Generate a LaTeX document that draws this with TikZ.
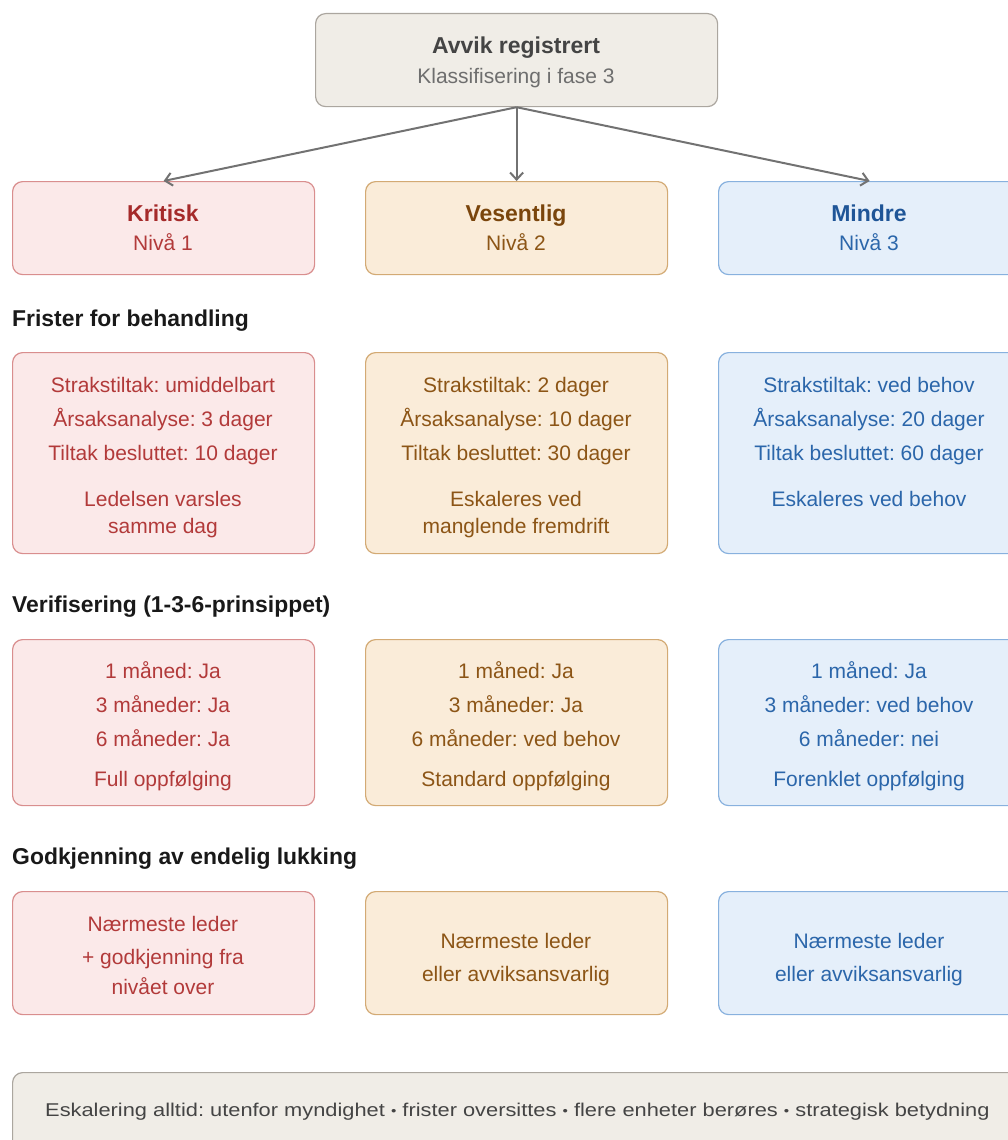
\documentclass[tikz,border=0pt]{standalone}
\usepackage{fontspec}
\setmainfont{Liberation Sans}
\usetikzlibrary{arrows.meta}
\definecolor{kfill}{HTML}{FBE9E9}
\definecolor{kline}{HTML}{D98E8E}
\definecolor{ktext}{HTML}{B23A3A}
\definecolor{ktitle}{HTML}{A52A2A}
\definecolor{vfill}{HTML}{FAECD9}
\definecolor{vline}{HTML}{D3AA74}
\definecolor{vtext}{HTML}{8C5516}
\definecolor{vtitle}{HTML}{7A450C}
\definecolor{mfill}{HTML}{E5EFFA}
\definecolor{mline}{HTML}{88B1DE}
\definecolor{mtext}{HTML}{2B66AA}
\definecolor{mtitle}{HTML}{1F5597}
\definecolor{gfill}{HTML}{F0EDE7}
\definecolor{gline}{HTML}{ABA69F}
\definecolor{gtitle}{HTML}{444444}
\definecolor{gtext}{HTML}{6E6E6E}
\definecolor{arrowc}{HTML}{727272}
\frenchspacing
\newcommand{\smbul}{\raisebox{1pt}{\fontsize{13}{13}\selectfont •}}
\begin{document}
\begin{tikzpicture}[x=1pt,y=-1pt,
  box/.style={draw, rounded corners=10pt, line width=1.2pt, anchor=north west, inner sep=0pt},
  kbox/.style={box, fill=kfill, draw=kline},
  vbox/.style={box, fill=vfill, draw=vline},
  mbox/.style={box, fill=mfill, draw=mline},
  gbox/.style={box, fill=gfill, draw=gline},
  txt/.style={inner sep=0pt, font=\fontsize{21}{25}\selectfont, text height=15pt, text depth=0pt},
  ttl/.style={inner sep=0pt, font=\fontsize{23}{27}\selectfont\bfseries, text height=16.5pt, text depth=0pt},
  kt/.style={txt, text=ktext}, vt/.style={txt, text=vtext}, mt/.style={txt, text=mtext},
  head/.style={inner sep=0pt, anchor=west, font=\fontsize{22.9}{27}\selectfont\bfseries, text=black!90, text height=16.5pt, text depth=0pt},
  arr/.style={draw=arrowc, line width=2pt, -{Straight Barb[length=7pt,width=13pt,line width=2pt]}}
]
\useasboundingbox (0,0) rectangle (1008,1140);

% top
\node[gbox, minimum width=402pt, minimum height=93pt] (top) at (315,13) {};
\node[ttl, text=gtitle] (topa) at (516,45) {Avvik registrert};
\node[txt, text=gtext] (topb) at (516,76) {Klassifisering i fase 3};

% row 1
\node[kbox, minimum width=302pt, minimum height=93pt] (k1) at (12,181) {};
\node[vbox, minimum width=302pt, minimum height=93pt] (v1) at (365,181) {};
\node[mbox, minimum width=302pt, minimum height=93pt] (m1) at (718,181) {};
\node[ttl, text=ktitle] (k1a) at (163,213) {Kritisk};
\node[kt] (k1b) at (163,243) {Nivå 1};
\node[ttl, text=vtitle] (v1a) at (516,213) {Vesentlig};
\node[vt] (v1b) at (516,243) {Nivå 2};
\node[ttl, text=mtitle] (m1a) at (869,213) {Mindre};
\node[mt] (m1b) at (869,243) {Nivå 3};

\draw[arr] (top.south) -- (k1.north);
\draw[arr] (top.south) -- (v1.north);
\draw[arr] (top.south) -- (m1.north);

% row 2
\node[head] (h2) at (12,318) {Frister for behandling};
\node[kbox, minimum width=302pt, minimum height=201pt] (k2) at (12,352) {};
\node[vbox, minimum width=302pt, minimum height=201pt] (v2) at (365,352) {};
\node[mbox, minimum width=302pt, minimum height=201pt] (m2) at (718,352) {};
\node[kt] (k2a) at (163,385) {Strakstiltak: umiddelbart};
\node[kt] (k2b) at (163,419) {Årsaksanalyse: 3 dager};
\node[kt] (k2c) at (163,453) {Tiltak besluttet: 10 dager};
\node[kt] (k2d) at (163,499) {Ledelsen varsles};
\node[kt] (k2e) at (163,526) {samme dag};
\node[vt] (v2a) at (516,385) {Strakstiltak: 2 dager};
\node[vt] (v2b) at (516,419) {Årsaksanalyse: 10 dager};
\node[vt] (v2c) at (516,453) {Tiltak besluttet: 30 dager};
\node[vt] (v2d) at (516,499) {Eskaleres ved};
\node[vt] (v2e) at (516,526) {manglende fremdrift};
\node[mt] (m2a) at (869,385) {Strakstiltak: ved behov};
\node[mt] (m2b) at (869,419) {Årsaksanalyse: 20 dager};
\node[mt] (m2c) at (869,453) {Tiltak besluttet: 60 dager};
\node[mt] (m2d) at (869,499) {Eskaleres ved behov};

% row 3
\node[head] (h3) at (12,604) {Verifisering (1-3-6-prinsippet)};
\node[kbox, minimum width=302pt, minimum height=166pt] (k3) at (12,639) {};
\node[vbox, minimum width=302pt, minimum height=166pt] (v3) at (365,639) {};
\node[mbox, minimum width=302pt, minimum height=166pt] (m3) at (718,639) {};
\node[kt] (k3a) at (163,671) {1 måned: Ja};
\node[kt] (k3b) at (163,705) {3 måneder: Ja};
\node[kt] (k3c) at (163,739) {6 måneder: Ja};
\node[kt] (k3d) at (163,779) {Full oppfølging};
\node[vt] (v3a) at (516,671) {1 måned: Ja};
\node[vt] (v3b) at (516,705) {3 måneder: Ja};
\node[vt] (v3c) at (516,739) {6 måneder: ved behov};
\node[vt] (v3d) at (516,779) {Standard oppfølging};
\node[mt] (m3a) at (869,671) {1 måned: Ja};
\node[mt] (m3b) at (869,705) {3 måneder: ved behov};
\node[mt] (m3c) at (869,739) {6 måneder: nei};
\node[mt] (m3d) at (869,779) {Forenklet oppfølging};

% row 4
\node[head] (h4) at (12,856) {Godkjenning av endelig lukking};
\node[kbox, minimum width=302pt, minimum height=123pt] (k4) at (12,891) {};
\node[vbox, minimum width=302pt, minimum height=123pt] (v4) at (365,891) {};
\node[mbox, minimum width=302pt, minimum height=123pt] (m4) at (718,891) {};
\node[kt] (k4a) at (163,924) {Nærmeste leder};
\node[kt] (k4b) at (163,957) {+ godkjenning fra};
\node[kt] (k4c) at (163,987) {nivået over};
\node[vt] (v4a) at (516,941) {Nærmeste leder};
\node[vt] (v4b) at (516,974) {eller avviksansvarlig};
\node[mt] (m4a) at (869,941) {Nærmeste leder};
\node[mt] (m4b) at (869,974) {eller avviksansvarlig};

% bottom
\node[gbox, minimum width=1008pt, minimum height=80pt] (bot) at (12,1072) {};
\node[inner sep=0pt, anchor=west, text=gtitle, font=\fontsize{18.5}{22}\selectfont, text height=13pt, text depth=0pt] (bota) at (45,1110) {\scalebox{1.18}[1]{Eskalering alltid: utenfor myndighet \smbul{} frister oversittes \smbul{} flere enheter berøres \smbul{} strategisk betydning}};
\end{tikzpicture}
\end{document}
